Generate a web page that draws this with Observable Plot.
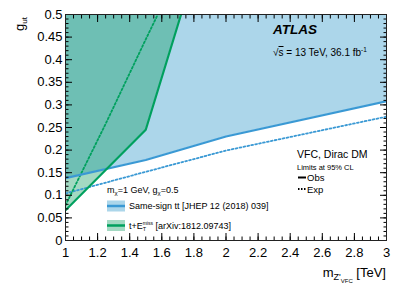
<!DOCTYPE html>
<html>
<head>
<meta charset="utf-8">
<script src="https://cdn.jsdelivr.net/npm/d3@7"></script>
<script src="https://cdn.jsdelivr.net/npm/@observablehq/plot@0.6"></script>
<style>
  html, body { margin: 0; padding: 0; background: #fff; }
  svg { font-family: "Liberation Sans", Arial, sans-serif; }
</style>
</head>
<body>
<div id="chart"></div>
<script>
// ---- data ----
const ssObsMass = [1, 1.5, 2, 3];
const ssObsG    = [0.138, 0.178, 0.230, 0.308];
const ssExpMass = [1, 1.5, 2, 3];
const ssExpG    = [0.104, 0.152, 0.199, 0.274];
const tmObsMass = [1, 1.5, 1.72];
const tmObsG    = [0.067, 0.245, 0.5];
const tmExpMass = [1, 1.25, 1.5, 1.575];
const tmExpG    = [0.078, 0.258, 0.445, 0.5];

const xDomain = [1, 3];
const yDomain = [0, 0.5];
const xTicks = [1, 1.2, 1.4, 1.6, 1.8, 2, 2.2, 2.4, 2.6, 2.8, 3];
const xTickLabels = ["1", "1.2", "1.4", "1.6", "1.8", "2", "2.2", "2.4", "2.6", "2.8", "3"];
const yTicks = [0, 0.05, 0.1, 0.15, 0.2, 0.25, 0.3, 0.35, 0.4, 0.45, 0.5];
const yTickLabels = ["0", "0.05", "0.1", "0.15", "0.2", "0.25", "0.3", "0.35", "0.4", "0.45", "0.5"];
const xMinor = d3.range(0, 41).map(i => +(1 + i * 0.05).toFixed(2));
const yMinor = d3.range(0, 51).map(i => +(i * 0.01).toFixed(2));

// ---- tables ----
const ssObs = ssObsMass.map((m, i) => ({m, g: ssObsG[i]}));
const ssExp = ssExpMass.map((m, i) => ({m, g: ssExpG[i]}));
const tmObs = tmObsMass.map((m, i) => ({m, g: tmObsG[i]}));
const tmExp = tmExpMass.map((m, i) => ({m, g: tmExpG[i]}));

const blueLine = "#3a99d4", blueFill = "#acd6ea";
const greenLine = "#00a05e", greenFillRGB = "rgb(0,150,85)";
const greenOpacity = 0.36;

const xfmt = d => xTickLabels[xTicks.findIndex(t => Math.abs(t - d) < 1e-9)];
const yfmt = d => yTickLabels[yTicks.findIndex(t => Math.abs(t - d) < 1e-9)];
const blank = () => "";

const svg = Plot.plot({
  width: 407, height: 289,
  marginLeft: 65, marginRight: 21, marginTop: 14, marginBottom: 49,
  x: {domain: xDomain},
  y: {domain: yDomain},
  style: {fontFamily: "Liberation Sans, Arial, sans-serif", background: "white"},
  marks: [
    Plot.areaY(ssObs, {x: "m", y1: "g", y2: () => yDomain[1], fill: blueFill, curve: "linear"}),
    Plot.areaY(tmObs, {x: "m", y1: "g", y2: () => yDomain[1], fill: greenFillRGB, fillOpacity: greenOpacity, curve: "linear"}),
    Plot.line(ssExp, {x: "m", y: "g", stroke: blueLine, strokeWidth: 1.8, strokeDasharray: "1.8,2.2", clip: true}),
    Plot.line(tmExp, {x: "m", y: "g", stroke: greenLine, strokeWidth: 1.8, strokeDasharray: "1.8,2.2", clip: true}),
    Plot.line(ssObs, {x: "m", y: "g", stroke: blueLine, strokeWidth: 2.2, clip: true}),
    Plot.line(tmObs, {x: "m", y: "g", stroke: greenLine, strokeWidth: 2.2, clip: true}),
    // tick labels
    Plot.axisX({ticks: xTicks, tickFormat: xfmt, tickSize: 0, tickPadding: 7, fontSize: 13, label: null}),
    Plot.axisY({ticks: yTicks, tickFormat: yfmt, tickSize: 0, tickPadding: 3, fontSize: 13, label: null}),
    // inward ticks, all four sides
    Plot.axisX({anchor: "bottom", ticks: xTicks, tickFormat: blank, tickSize: -7, label: null}),
    Plot.axisX({anchor: "bottom", ticks: xMinor, tickFormat: blank, tickSize: -3.5, label: null}),
    Plot.axisX({anchor: "top", ticks: xTicks, tickFormat: blank, tickSize: -7, label: null}),
    Plot.axisX({anchor: "top", ticks: xMinor, tickFormat: blank, tickSize: -3.5, label: null}),
    Plot.axisY({anchor: "left", ticks: yTicks, tickFormat: blank, tickSize: -7, label: null}),
    Plot.axisY({anchor: "left", ticks: yMinor, tickFormat: blank, tickSize: -3.5, label: null}),
    Plot.axisY({anchor: "right", ticks: yTicks, tickFormat: blank, tickSize: -7, label: null}),
    Plot.axisY({anchor: "right", ticks: yMinor, tickFormat: blank, tickSize: -3.5, label: null}),
    Plot.frame({stroke: "#222", strokeWidth: 1})
  ]
});

// ---- annotations (text with sub/superscripts) ----
const g = d3.select(svg).append("g")
  .attr("font-family", "Liberation Sans, Arial, sans-serif")
  .attr("fill", "black")
  .attr("text-anchor", "start");

function addText(x, y, size, parts, opts = {}) {
  const t = g.append("text").attr("x", x).attr("y", y).attr("font-size", size)
    .attr("text-anchor", opts.anchor || "start");
  if (opts.weight) t.attr("font-weight", opts.weight);
  if (opts.style) t.attr("font-style", opts.style);
  if (opts.transform) t.attr("transform", opts.transform);
  for (const p of parts) {
    const s = t.append("tspan").text(p.t);
    if (p.size) s.attr("font-size", p.size);
    if (p.dy) s.attr("dy", p.dy);
    if (p.dx) s.attr("dx", p.dx);
    if (p.deco) s.attr("text-decoration", p.deco);
  }
  return t;
}

// ATLAS label
addText(273, 34, 13.5, [{t: "ATLAS"}], {weight: "bold", style: "italic"});
addText(273, 56, 10, [{t: "√"}, {t: "s", deco: "overline"}, {t: " = 13 TeV, 36.1 fb"}, {t: "-1", size: 6.5, dy: -4}]);

// VFC legend
addText(297, 158, 10.5, [{t: "VFC, Dirac DM"}]);
addText(297, 169.5, 7.5, [{t: "Limits at 95% CL"}]);
g.append("line").attr("x1", 298).attr("x2", 306).attr("y1", 177.5).attr("y2", 177.5).attr("stroke", "black").attr("stroke-width", 2);
addText(307, 181, 9.5, [{t: "Obs"}]);
g.append("line").attr("x1", 298).attr("x2", 306).attr("y1", 189).attr("y2", 189).attr("stroke", "black").attr("stroke-width", 2).attr("stroke-dasharray", "1.5,1.5");
addText(307, 192.5, 9.5, [{t: "Exp"}]);

// series legend
addText(107, 193, 9, [{t: "m"}, {t: "χ", size: 6, dy: 2}, {t: "=1 GeV, g", dy: -2}, {t: "χ", size: 6, dy: 2}, {t: "=0.5", dy: -2}]);
g.append("rect").attr("x", 107).attr("y", 200.5).attr("width", 18).attr("height", 11).attr("fill", blueFill);
g.append("line").attr("x1", 107).attr("x2", 125).attr("y1", 206).attr("y2", 206).attr("stroke", blueLine).attr("stroke-width", 2.5);
addText(129, 209.2, 9, [{t: "Same-sign tt [JHEP 12 (2018) 039]"}]);
g.append("rect").attr("x", 107).attr("y", 220).attr("width", 18).attr("height", 11).attr("fill", greenFillRGB).attr("fill-opacity", greenOpacity);
g.append("line").attr("x1", 107).attr("x2", 125).attr("y1", 225.5).attr("y2", 225.5).attr("stroke", greenLine).attr("stroke-width", 2.5);
addText(129, 228.7, 9, [{t: "t+E"}, {t: "T", size: 5.5, dy: 2.5}, {t: "miss", size: 5, dx: -3.5, dy: -6.5}, {t: " [arXiv:1812.09743]", size: 9, dy: 4}]);

// axis titles
addText(0, 0, 13, [{t: "g"}, {t: "ut", size: 8, dy: 3}], {anchor: "end", transform: "translate(24,17) rotate(-90)"});
addText(386, 277, 13, [{t: "m"}, {t: "Z'", size: 9, dy: 3}, {t: "VFC", size: 6, dy: 2.5}, {t: " [TeV]", size: 13, dy: -5.5}], {anchor: "end"});

document.getElementById("chart").appendChild(svg);
</script>
</body>
</html>
